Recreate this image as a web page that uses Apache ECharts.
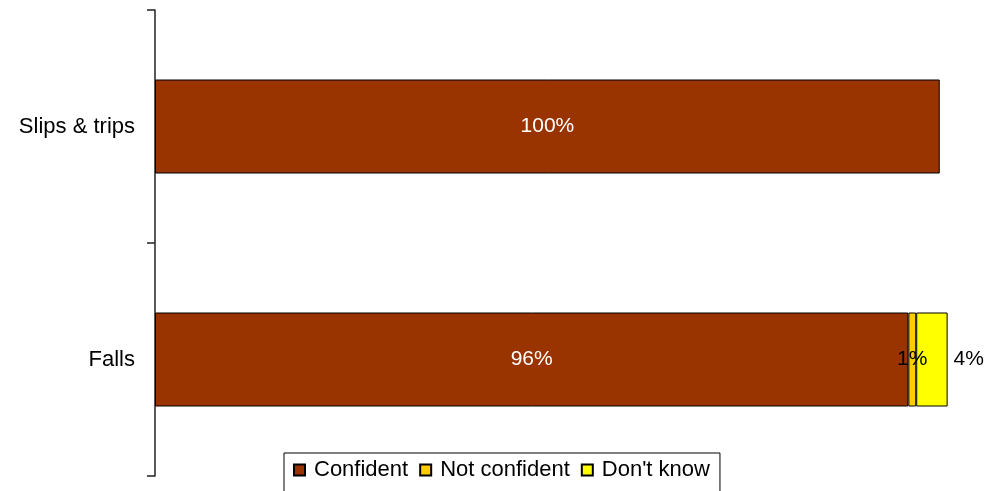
<!DOCTYPE html>
<html>
<head>
<meta charset="utf-8">
<script src="https://cdn.jsdelivr.net/npm/echarts@6/dist/echarts.min.js"></script>
<style>
  html, body { margin: 0; padding: 0; background: #fff; }
  #chart { width: 989px; height: 491px; }
</style>
</head>
<body>
<div id="chart"></div>
<script>
// categories, top to bottom
var categories = ['Slips & trips', 'Falls'];
// percentages per answer
var confident = [100, 96];
var notConfident = [0, 1];
var dontKnow = [0, 4];

var font = '"Liberation Sans", Arial, sans-serif';

// 0 -> '-' so no empty segment gets drawn
function noZero(arr) {
  return arr.map(function (v) { return v === 0 ? '-' : v; });
}

function makeSeries(name, data, color, label) {
  return {
    name: name,
    type: 'bar',
    stack: 'total',
    barWidth: 94,
    data: noZero(data),
    itemStyle: { color: color, borderColor: '#000', borderWidth: 1 },
    label: label
  };
}

var chart = echarts.init(document.getElementById('chart'));
var option = {
  animation: false,
  grid: { left: 155, right: 10, top: 10, bottom: 15 },
  xAxis: { type: 'value', min: 0, max: 105, show: false },
  yAxis: {
    type: 'category',
    data: categories,
    inverse: true,
    axisLine: { show: true, lineStyle: { color: '#222', width: 1.5 } },
    axisTick: { show: true, alignWithLabel: false, interval: 0, length: 8, inside: false,
      lineStyle: { color: '#222', width: 1.5 } },
    axisLabel: { color: '#000', fontSize: 22, fontFamily: font, margin: 20 }
  },
  legend: {
    left: 284,
    top: 453,
    padding: [6, 10, 20, 9],
    itemGap: 11,
    itemWidth: 11,
    itemHeight: 11,
    icon: 'rect',
    borderColor: '#000',
    borderWidth: 1,
    textStyle: { color: '#000', fontSize: 22, fontFamily: font, padding: [0, 0, 0, 4] },
    data: ['Confident', 'Not confident', "Don't know"]
  },
  series: [
    makeSeries('Confident', confident, '#993300', {
      show: true, position: 'inside', color: '#fff', fontSize: 21, fontFamily: font,
      formatter: '{c}%'
    }),
    makeSeries('Not confident', notConfident, '#FFCC00', {
      show: true, position: 'inside', color: '#000', fontSize: 21, fontFamily: font,
      formatter: '{c}%'
    }),
    makeSeries("Don't know", dontKnow, '#FFFF00', {
      show: true, position: 'right', distance: 6, color: '#000', fontSize: 21, fontFamily: font,
      formatter: '{c}%'
    })
  ]
};
chart.setOption(option);
</script>
</body>
</html>
